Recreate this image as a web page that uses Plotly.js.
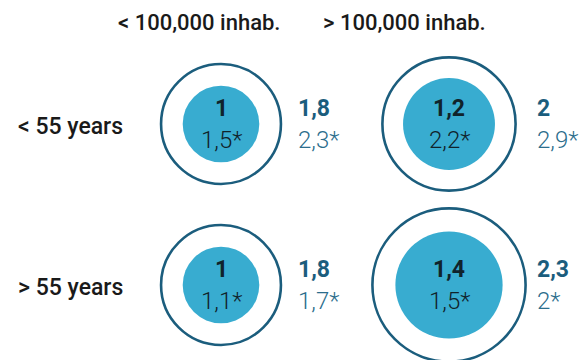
<!DOCTYPE html>
<html>
<head>
<meta charset="utf-8">
<script src="https://cdn.plot.ly/plotly-3.0.1.min.js"></script>
<style>html,body{margin:0;padding:0;background:#fff;}#chart{width:582px;height:360px;}</style>
</head>
<body>
<div id="chart"></div>
<script>
// Categories
const colLabels = ['< 100,000 inhab.', '> 100,000 inhab.'];
const rowLabels = ['< 55 years', '> 55 years'];
// Cells in order: row0col0, row0col1, row1col0, row1col1
const cellCol = [0, 1, 0, 1];
const cellRow = [0, 0, 1, 1];
const innerMain = [1, 1.2, 1, 1.4];
const innerStar = [1.5, 2.2, 1.1, 1.5];
const outerMain = [1.8, 2, 1.8, 2.3];
const outerStar = [2.3, 2.9, 1.7, 2];

const fmt = v => String(v).replace('.', ',');
const FONT = 'Roboto, "Open Sans", sans-serif';
const darkBlue = '#1b5d7d';
const lightBlue = '#38acd0';

const outerScale = 66.6; // px diameter per unit
const innerScale = 76.6;

const outerTrace = {
  type: 'scatter', mode: 'markers',
  x: cellCol, y: cellRow,
  marker: {size: outerMain.map(v => v * outerScale), color: '#ffffff',
           line: {color: darkBlue, width: 2.6}, opacity: 1},
  hoverinfo: 'skip', showlegend: false, cliponaxis: false
};
const innerTrace = {
  type: 'scatter', mode: 'markers',
  x: cellCol, y: cellRow,
  marker: {size: innerMain.map(v => v * innerScale), color: lightBlue,
           line: {width: 0}, opacity: 1},
  hoverinfo: 'skip', showlegend: false, cliponaxis: false
};

const annotations = [];
const rightShift = [77, 88];
for (let i = 0; i < cellCol.length; i++) {
  const c = cellCol[i], r = cellRow[i];
  annotations.push({x: c, y: r, xref: 'x', yref: 'y', text: '<b>' + fmt(innerMain[i]) + '</b>',
    showarrow: false, yshift: 16, font: {family: FONT, size: 23, color: '#10232b', weight: 700}});
  annotations.push({x: c, y: r, xref: 'x', yref: 'y', text: fmt(innerStar[i]) + '*',
    showarrow: false, yshift: -16, font: {family: FONT, size: 24, color: '#10232b', weight: 300}});
  annotations.push({x: c, y: r, xref: 'x', yref: 'y', text: '<b>' + fmt(outerMain[i]) + '</b>',
    showarrow: false, xanchor: 'left', xshift: rightShift[c] - 2, yshift: 16,
    font: {family: FONT, size: 23, color: darkBlue, weight: 700}});
  annotations.push({x: c, y: r, xref: 'x', yref: 'y', text: fmt(outerStar[i]) + '*',
    showarrow: false, xanchor: 'left', xshift: rightShift[c] - 2, yshift: -16,
    font: {family: FONT, size: 24, color: '#2b6d8c', weight: 300}});
}
const headShift = [-22, -45];
colLabels.forEach((t, c) => annotations.push({x: c, xref: 'x', yref: 'paper', yanchor: 'middle',
  text: t, showarrow: false, xshift: headShift[c], y: 1 - 22 / 360,
  font: {family: FONT, size: 22, color: '#1a1a1a', weight: 500}}));
rowLabels.forEach((t, r) => annotations.push({x: 16 / 582, xref: 'paper', y: r, yref: 'y',
  xanchor: 'left', text: t, showarrow: false, yshift: -2,
  font: {family: FONT, size: 23, color: '#1a1a1a', weight: 500}}));

const layout = {
  width: 582, height: 360,
  margin: {l: 0, r: 0, t: 0, b: 0, pad: 0},
  paper_bgcolor: '#ffffff', plot_bgcolor: '#ffffff',
  xaxis: {range: [-221 / 228, -221 / 228 + 582 / 228], visible: false, fixedrange: true},
  yaxis: {range: [1 + 75 / 161, -124 / 161], visible: false, fixedrange: true},
  annotations: annotations,
  showlegend: false
};
Plotly.newPlot('chart', [outerTrace, innerTrace], layout, {staticPlot: true, displayModeBar: false});
</script>
</body>
</html>
